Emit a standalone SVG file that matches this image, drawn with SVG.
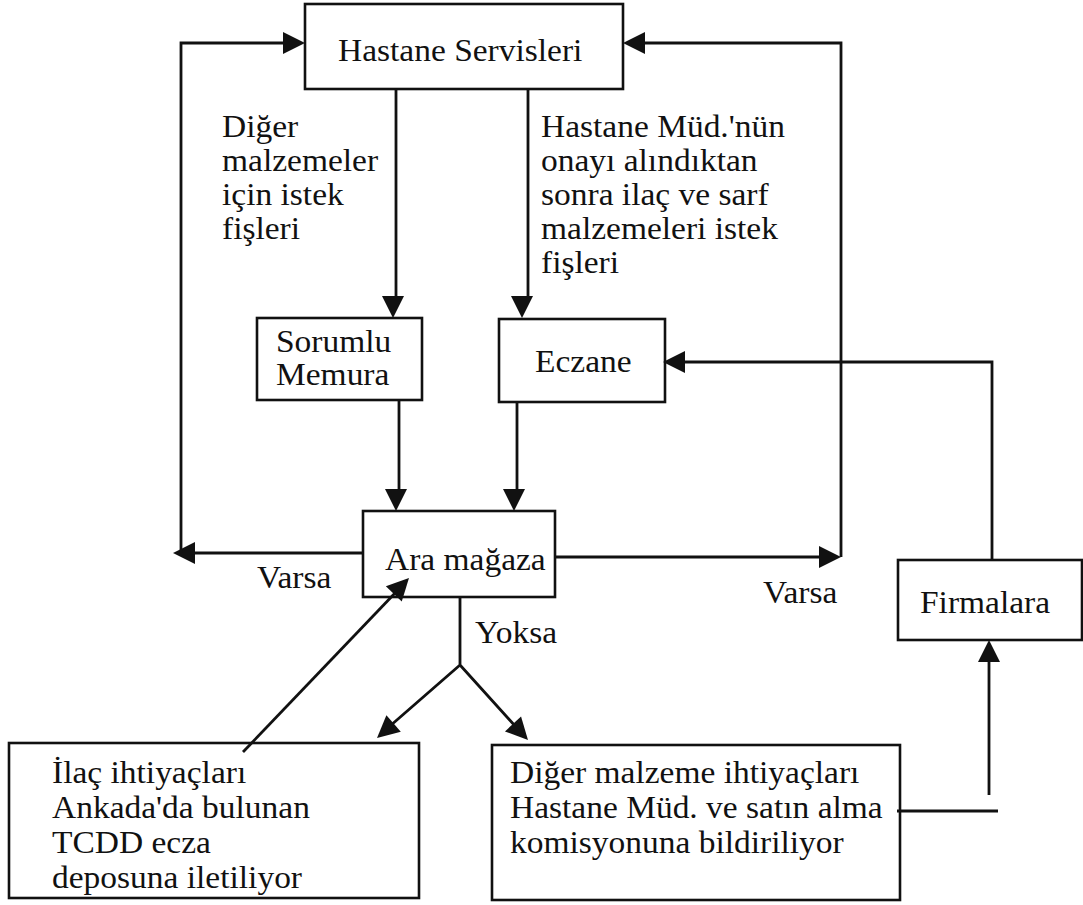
<svg xmlns="http://www.w3.org/2000/svg" width="1083" height="905" viewBox="0 0 1083 905">
  <style>
    .box { fill: none; stroke: #111; stroke-width: 2.6; }
    .wire { fill: none; stroke: #111; stroke-width: 2.8; }
    .head { fill: #111; }
    .lbl { font-family: "Liberation Serif", serif; font-size: 31px; fill: #111; }
  </style>
  <defs>
    <!-- filled arrowhead, tip at origin, pointing along +x -->
    <polygon id="ah" points="0,0 -22,-11 -22,11"/>
  </defs>
  <rect width="1083" height="905" fill="#fff"/>

  <g id="hastane-servisleri">
    <rect class="box" x="305" y="4" width="318" height="85"/>
    <text class="lbl" font-family="Liberation Serif, serif" transform="translate(338 61) scale(1.08 1)">Hastane Servisleri</text>
  </g>

  <g id="label-diger-istek" font-family="Liberation Serif, serif">
    <text class="lbl" transform="translate(222 137) scale(1.08 1)">Diğer</text>
    <text class="lbl" transform="translate(222 171) scale(1.08 1)">malzemeler</text>
    <text class="lbl" transform="translate(222 205) scale(1.08 1)">için istek</text>
    <text class="lbl" transform="translate(222 239) scale(1.08 1)">fişleri</text>
  </g>

  <g id="label-ilac-istek" font-family="Liberation Serif, serif">
    <text class="lbl" transform="translate(541 137) scale(1.08 1)">Hastane Müd.'nün</text>
    <text class="lbl" transform="translate(541 171) scale(1.08 1)">onayı alındıktan</text>
    <text class="lbl" transform="translate(541 205) scale(1.08 1)">sonra ilaç ve sarf</text>
    <text class="lbl" transform="translate(541 239) scale(1.08 1)">malzemeleri istek</text>
    <text class="lbl" transform="translate(541 273) scale(1.08 1)">fişleri</text>
  </g>

  <g id="sorumlu-memura" font-family="Liberation Serif, serif">
    <rect class="box" x="257" y="318" width="165" height="82"/>
    <text class="lbl" transform="translate(276 352) scale(1.08 1)">Sorumlu</text>
    <text class="lbl" transform="translate(276 385) scale(1.08 1)">Memura</text>
  </g>

  <g id="eczane" font-family="Liberation Serif, serif">
    <rect class="box" x="499" y="319" width="166" height="83"/>
    <text class="lbl" transform="translate(535 372) scale(1.08 1)">Eczane</text>
  </g>

  <g id="ara-magaza" font-family="Liberation Serif, serif">
    <rect class="box" x="363" y="511" width="192" height="86"/>
    <text class="lbl" transform="translate(385 570) scale(1.08 1)">Ara mağaza</text>
  </g>

  <g id="labels-varsa-yoksa" font-family="Liberation Serif, serif">
    <text class="lbl" transform="translate(257 588) scale(1.08 1)">Varsa</text>
    <text class="lbl" transform="translate(763 603) scale(1.08 1)">Varsa</text>
    <text class="lbl" transform="translate(475 643) scale(1.08 1)">Yoksa</text>
  </g>

  <g id="firmalara" font-family="Liberation Serif, serif">
    <rect class="box" x="898" y="560" width="184" height="80"/>
    <text class="lbl" transform="translate(920 613) scale(1.08 1)">Firmalara</text>
  </g>

  <g id="tcdd-ecza-deposu" font-family="Liberation Serif, serif">
    <rect class="box" x="9" y="743" width="410" height="155"/>
    <text class="lbl" transform="translate(52 783) scale(1.08 1)">İlaç ihtiyaçları</text>
    <text class="lbl" transform="translate(52 818) scale(1.08 1)">Ankada'da bulunan</text>
    <text class="lbl" transform="translate(52 853) scale(1.08 1)">TCDD ecza</text>
    <text class="lbl" transform="translate(52 888) scale(1.08 1)">deposuna iletiliyor</text>
  </g>

  <g id="satin-alma-komisyonu" font-family="Liberation Serif, serif">
    <rect class="box" x="492" y="745" width="408" height="155"/>
    <text class="lbl" transform="translate(510 783) scale(1.08 1)">Diğer malzeme ihtiyaçları</text>
    <text class="lbl" transform="translate(510 818) scale(1.08 1)">Hastane Müd. ve satın alma</text>
    <text class="lbl" transform="translate(510 853) scale(1.08 1)">komisyonuna bildiriliyor</text>
  </g>

  <g id="connectors">
    <!-- left feedback loop: Ara mağaza back to Hastane Servisleri -->
    <path class="wire" d="M363,553 H190"/>
    <use href="#ah" class="head" transform="translate(173 553) rotate(180)"/>
    <path class="wire" d="M181,553 V43 H290"/>
    <use href="#ah" class="head" transform="translate(305 43)"/>

    <!-- right feedback loop -->
    <path class="wire" d="M555,557 H826"/>
    <use href="#ah" class="head" transform="translate(841 557)"/>
    <path class="wire" d="M841,557 V43 H640"/>
    <use href="#ah" class="head" transform="translate(623 43) rotate(180)"/>

    <!-- Hastane Servisleri down to Sorumlu Memura and Eczane -->
    <path class="wire" d="M396,89 V300"/>
    <use href="#ah" class="head" transform="translate(393 318) rotate(90)"/>
    <path class="wire" d="M528,89 V300"/>
    <use href="#ah" class="head" transform="translate(522 318) rotate(90)"/>

    <!-- Sorumlu Memura and Eczane down to Ara mağaza -->
    <path class="wire" d="M399,400 V495"/>
    <use href="#ah" class="head" transform="translate(396 511) rotate(90)"/>
    <path class="wire" d="M517,402 V495"/>
    <use href="#ah" class="head" transform="translate(514 511) rotate(90)"/>

    <!-- Firmalara back to Eczane -->
    <path class="wire" d="M992,560 V362 H680"/>
    <use href="#ah" class="head" transform="translate(663 362) rotate(180)"/>

    <!-- purchasing commission up to Firmalara -->
    <path class="wire" d="M897,811 H998"/>
    <path class="wire" d="M989,795 V655"/>
    <use href="#ah" class="head" transform="translate(989 640) rotate(-90)"/>

    <!-- Yoksa split -->
    <path class="wire" d="M460,597 V665 M460,665 L390,726 M460,665 L516,727"/>
    <use href="#ah" class="head" transform="translate(377 738) rotate(139)"/>
    <use href="#ah" class="head" transform="translate(528 740) rotate(47)"/>

    <!-- TCDD depot back up to Ara mağaza -->
    <path class="wire" d="M243,752 L397,591"/>
    <use href="#ah" class="head" transform="translate(409 578) rotate(-46.3)"/>
  </g>
</svg>
